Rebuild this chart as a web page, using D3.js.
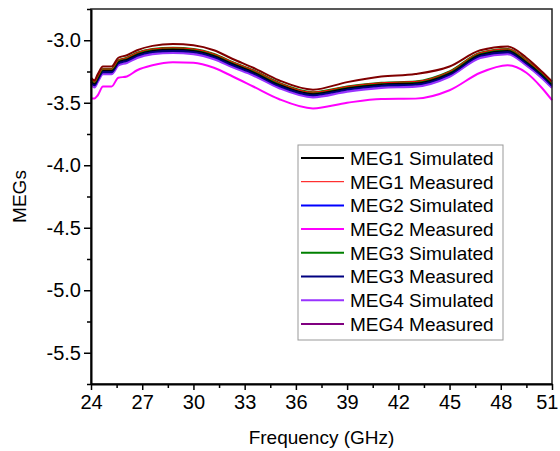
<!DOCTYPE html>
<html>
<head>
<meta charset="utf-8">
<script src="https://cdn.jsdelivr.net/npm/d3@7"></script>
<style>
  body { margin: 0; background: #fff; }
  text { font-family: "Liberation Sans", Arial, sans-serif; fill: #000; }
</style>
</head>
<body>
<div id="chart"></div>
<script>
const freq = [24, 24.2, 24.4, 24.7, 25.2, 25.6, 26.1, 26.7, 27.6, 28.8, 30.0, 31.2, 32.3, 33.5, 35.0, 37.0, 39.0, 41.0, 43.0, 45.0, 46.8, 48.4, 49.5, 50.4, 51];

const meg1Sim  = [-3.32, -3.345, -3.30, -3.24, -3.24, -3.17, -3.15, -3.11, -3.08, -3.07, -3.08, -3.12, -3.185, -3.25, -3.35, -3.425, -3.38, -3.35, -3.34, -3.26, -3.11, -3.08, -3.17, -3.27, -3.35];
const meg1Meas = [-3.31, -3.335, -3.29, -3.23, -3.23, -3.16, -3.14, -3.10, -3.07, -3.06, -3.07, -3.11, -3.175, -3.24, -3.34, -3.415, -3.37, -3.34, -3.33, -3.25, -3.10, -3.07, -3.16, -3.26, -3.34];
const meg2Sim  = [-3.33, -3.355, -3.31, -3.25, -3.25, -3.18, -3.16, -3.12, -3.09, -3.08, -3.09, -3.13, -3.195, -3.26, -3.36, -3.435, -3.39, -3.36, -3.35, -3.27, -3.12, -3.09, -3.18, -3.28, -3.36];
const meg2Meas = [-3.465, -3.465, -3.44, -3.37, -3.37, -3.30, -3.29, -3.24, -3.20, -3.176, -3.18, -3.22, -3.29, -3.37, -3.47, -3.545, -3.50, -3.47, -3.467, -3.40, -3.26, -3.20, -3.26, -3.38, -3.48];
const meg3Sim  = [-3.31, -3.335, -3.29, -3.23, -3.23, -3.16, -3.14, -3.10, -3.07, -3.06, -3.07, -3.11, -3.175, -3.24, -3.34, -3.415, -3.37, -3.34, -3.33, -3.25, -3.10, -3.07, -3.16, -3.26, -3.34];
const meg3Meas = [-3.335, -3.36, -3.315, -3.255, -3.255, -3.185, -3.165, -3.125, -3.095, -3.085, -3.095, -3.135, -3.20, -3.265, -3.365, -3.44, -3.395, -3.365, -3.355, -3.275, -3.125, -3.095, -3.185, -3.285, -3.365];
const meg4Sim  = [-3.35, -3.375, -3.33, -3.27, -3.27, -3.20, -3.18, -3.14, -3.11, -3.10, -3.11, -3.15, -3.215, -3.28, -3.38, -3.455, -3.41, -3.38, -3.37, -3.29, -3.14, -3.11, -3.20, -3.30, -3.38];
const meg4Meas = [-3.30, -3.32, -3.27, -3.21, -3.21, -3.14, -3.12, -3.08, -3.045, -3.03, -3.04, -3.08, -3.15, -3.22, -3.32, -3.395, -3.335, -3.29, -3.27, -3.21, -3.08, -3.05, -3.14, -3.25, -3.33];

const seriesNames = ["MEG1 Simulated", "MEG1 Measured", "MEG2 Simulated", "MEG2 Measured",
                     "MEG3 Simulated", "MEG3 Measured", "MEG4 Simulated", "MEG4 Measured"];
const seriesValues = [meg1Sim, meg1Meas, meg2Sim, meg2Meas, meg3Sim, meg3Meas, meg4Sim, meg4Meas];
const lineColors   = ["#000000", "#ff0000", "#0000ff", "#ff00ff", "#008000", "#000080", "#9933ff", "#800000"];
const legendColors = ["#000000", "#ff0000", "#0000ff", "#ff00ff", "#008000", "#000080", "#9933ff", "#800080"];
const lineWidths   = [2, 1, 2, 2, 2, 2, 2.5, 2];
// draw order, last on top
const drawOrder = [6, 2, 5, 0, 4, 1, 3, 7];

const xTicks = [24, 27, 30, 33, 36, 39, 42, 45, 48, 51];
const yTicks = [-3.0, -3.5, -4.0, -4.5, -5.0, -5.5];

const width = 560, height = 451;
const margin = { left: 91, right: 8, top: 9, bottom: 67 };

const svg = d3.select("#chart").append("svg")
  .attr("width", width)
  .attr("height", height);

const x = d3.scaleLinear().domain([24, 51]).range([margin.left, width - margin.right]);
const y = d3.scaleLinear().domain([-5.75, -2.75]).range([height - margin.bottom, margin.top]);

const line = d3.line()
  .x(d => x(d[0]))
  .y(d => y(d[1]))
  .curve(d3.curveMonotoneX);

const plot = svg.append("g");
drawOrder.forEach(i => {
  plot.append("path")
    .datum(freq.map((f, k) => [f, seriesValues[i][k]]))
    .attr("fill", "none")
    .attr("stroke", lineColors[i])
    .attr("stroke-width", lineWidths[i])
    .attr("stroke-linejoin", "round")
    .attr("d", line);
});

// frame
svg.append("rect")
  .attr("x", x(24)).attr("y", y(-2.75))
  .attr("width", x(51) - x(24)).attr("height", y(-5.75) - y(-2.75))
  .attr("fill", "none").attr("stroke", "#222").attr("stroke-width", 1.5);

// minor ticks
const xMinor = d3.range(25.5, 51, 3);
const yMinor = d3.range(-5.75, -2.7, 0.5);

const xAxis = svg.append("g")
  .attr("transform", `translate(0,${y(-5.75)})`)
  .call(d3.axisBottom(x).tickValues(xTicks).tickSize(6).tickSizeOuter(0).tickPadding(5).tickFormat(d3.format("d")));
svg.append("g")
  .attr("transform", `translate(0,${y(-5.75)})`)
  .call(d3.axisBottom(x).tickValues(xMinor).tickSize(4).tickSizeOuter(0).tickFormat(""))
  .select(".domain").remove();

const yAxis = svg.append("g")
  .attr("transform", `translate(${x(24)},0)`)
  .call(d3.axisLeft(y).tickValues(yTicks).tickSize(7).tickSizeOuter(0).tickPadding(3).tickFormat(d3.format(".1f")));
svg.append("g")
  .attr("transform", `translate(${x(24)},0)`)
  .call(d3.axisLeft(y).tickValues(yMinor).tickSize(4).tickSizeOuter(0).tickFormat(""))
  .select(".domain").remove();

svg.selectAll(".tick line").attr("stroke", "#000").attr("stroke-width", 1.5);
svg.selectAll(".domain").attr("stroke", "#000").attr("stroke-width", 2);
svg.selectAll(".tick text")
  .style("font-size", "20px")
  .style("font-family", "'Liberation Sans', Arial, sans-serif")
  .attr("fill", "#000");
yAxis.selectAll(".tick text").text(d => d3.format(".1f")(d).replace("−", "-"));
// keep the last x label inside the page
xAxis.selectAll(".tick text").filter(d => d === 51).attr("text-anchor", "end").attr("dx", 6);

svg.append("text")
  .attr("x", (x(24) + x(51)) / 2)
  .attr("y", 444)
  .attr("text-anchor", "middle")
  .style("font-size", "19px")
  .text("Frequency (GHz)");

svg.append("text")
  .attr("transform", `translate(26,${(y(-2.75) + y(-5.75)) / 2}) rotate(-90)`)
  .attr("text-anchor", "middle")
  .style("font-size", "19px")
  .text("MEGs");

// legend
const legend = svg.append("g").attr("transform", "translate(298,145)");
legend.append("rect")
  .attr("width", 205).attr("height", 195)
  .attr("fill", "#fff").attr("stroke", "#999").attr("stroke-width", 1);

const item = legend.selectAll(".legend-item")
  .data(seriesNames)
  .enter().append("g")
  .attr("class", "legend-item")
  .attr("transform", (d, i) => `translate(0,${13 + i * 23.7})`);

item.append("line")
  .attr("x1", 3).attr("x2", 46)
  .attr("stroke", (d, i) => legendColors[i])
  .attr("stroke-width", (d, i) => Math.min(lineWidths[i], 2));

item.append("text")
  .attr("x", 52)
  .attr("dy", "0.36em")
  .style("font-size", "19px")
  .text(d => d);
</script>
</body>
</html>
